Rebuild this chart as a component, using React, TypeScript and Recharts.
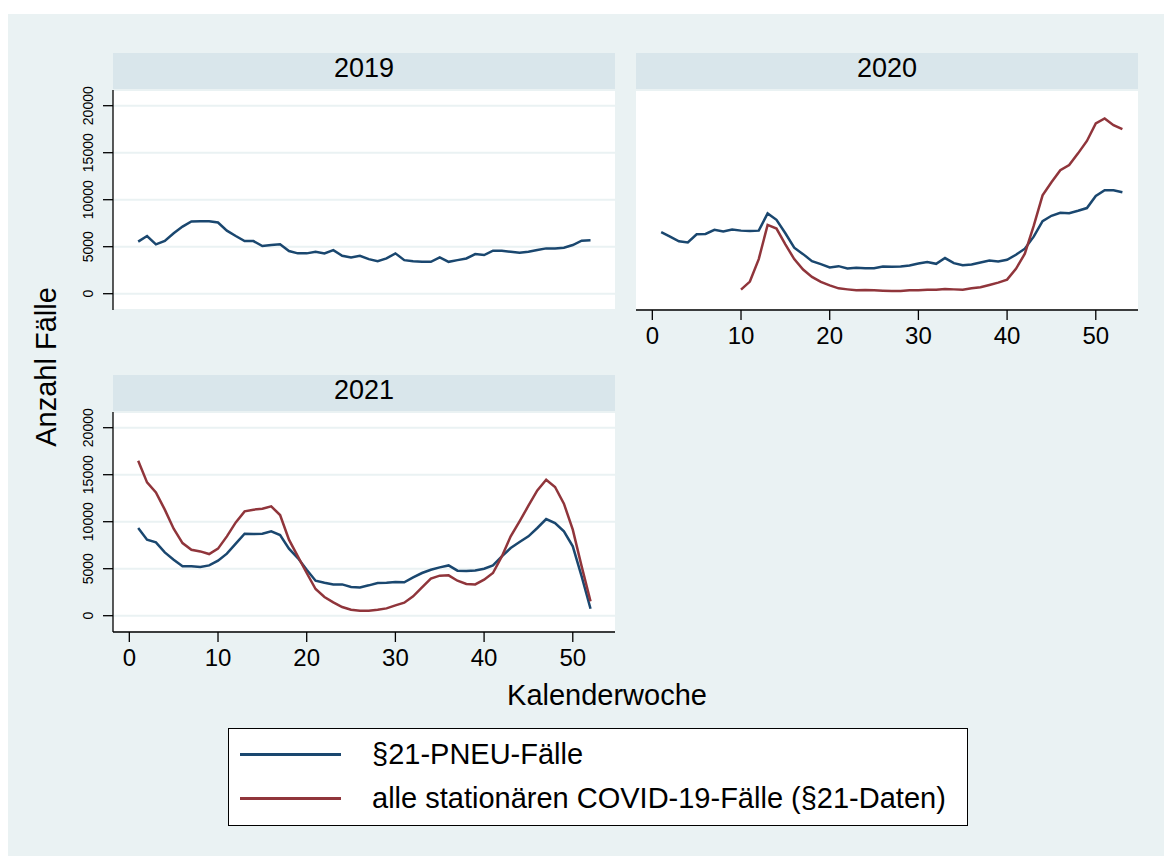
import React from 'react';
import { LineChart, Line, XAxis, YAxis, CartesianGrid } from 'recharts';

const weeks = [1, 2, 3, 4, 5, 6, 7, 8, 9, 10, 11, 12, 13, 14, 15, 16, 17, 18, 19, 20, 21, 22, 23, 24, 25, 26, 27, 28, 29, 30, 31, 32, 33, 34, 35, 36, 37, 38, 39, 40, 41, 42, 43, 44, 45, 46, 47, 48, 49, 50, 51, 52, 53];

const pneu2019 = [5540, 6140, 5250, 5610, 6430, 7140, 7680, 7710, 7710, 7570, 6710, 6140, 5600, 5600, 5070, 5180, 5250, 4540, 4290, 4290, 4460, 4290, 4640, 4040, 3860, 4040, 3680, 3460, 3750, 4290, 3570, 3460, 3390, 3390, 3860, 3390, 3570, 3750, 4210, 4110, 4570, 4570, 4460, 4360, 4460, 4640, 4820, 4820, 4890, 5180, 5640, 5680];

const pneu2020 = [6540, 6070, 5570, 5460, 6320, 6360, 6790, 6610, 6820, 6710, 6680, 6710, 8540, 7860, 6430, 4890, 4210, 3460, 3140, 2790, 2930, 2680, 2750, 2710, 2710, 2890, 2860, 2890, 3000, 3210, 3360, 3180, 3790, 3250, 3040, 3110, 3320, 3540, 3430, 3610, 4140, 4790, 6070, 7710, 8290, 8610, 8570, 8820, 9110, 10390, 11000, 11000, 10790];
const covid2020 = [null, null, null, null, null, null, null, null, null, 430, 1290, 3680, 7320, 6930, 5250, 3680, 2570, 1790, 1250, 890, 570, 460, 360, 390, 360, 320, 290, 290, 360, 360, 430, 430, 500, 460, 430, 570, 680, 930, 1180, 1500, 2640, 4250, 7210, 10460, 11860, 13140, 13680, 14930, 16250, 18110, 18640, 17930, 17500];

const pneu2021 = [9330, 8090, 7800, 6740, 5960, 5250, 5250, 5180, 5350, 5850, 6600, 7660, 8720, 8690, 8720, 8970, 8580, 7130, 6130, 4890, 3720, 3510, 3330, 3330, 3050, 3010, 3230, 3480, 3510, 3580, 3550, 4080, 4540, 4890, 5140, 5350, 4790, 4750, 4820, 5000, 5350, 6310, 7200, 7840, 8440, 9330, 10280, 9860, 8970, 7380, 4180, 740];
const covid2021 = [16490, 14180, 13120, 11280, 9260, 7730, 7020, 6840, 6560, 7130, 8440, 9930, 11100, 11280, 11380, 11630, 10710, 8090, 6310, 4540, 2840, 1990, 1420, 920, 640, 530, 530, 640, 780, 1100, 1380, 2060, 3010, 3940, 4260, 4290, 3720, 3370, 3330, 3830, 4540, 6310, 8440, 10040, 11700, 13330, 14470, 13690, 11920, 9150, 5250, 1520];

const xTicks = [0, 10, 20, 30, 40, 50];
const yTicks = [0, 5000, 10000, 15000, 20000];

const FONT = '"Liberation Sans", Arial, sans-serif';
const BG = '#EAF2F3';
const STRIP = '#D9E6EB';
const NAVY = '#1A476F';
const MAROON = '#90353B';

const PLOT_W = 502;
const PLOT_H = 220;
const Y_W = 60;
const TOP_PAD = 20;

function buildRows(pneu: (number | null)[], covid: (number | null)[] | null) {
    return pneu.map((p, i) => ({ week: weeks[i], pneu: p, covid: covid ? covid[i] : null }));
}

function YTick(props: any) {
    const { x, y, payload } = props;
    const cx = x - 15;
    return (
        <text
            x={cx}
            y={y}
            dy="0.36em"
            textAnchor="middle"
            fontSize={14}
            fontFamily={FONT}
            fill="#000"
            transform={`rotate(-90, ${cx}, ${y})`}
        >
            {payload.value}
        </text>
    );
}

interface PanelProps {
    title: string;
    left: number;
    top: number;
    data: any[];
    showY: boolean;
    showX: boolean;
    showCovid: boolean;
}

function Panel({ title, left, top, data, showY, showX, showCovid }: PanelProps) {
    return (
        <>
            <div
                style={{
                    position: 'absolute',
                    left,
                    top: top - 37,
                    width: PLOT_W,
                    height: 37,
                    background: STRIP,
                }}
            >
                <div
                    style={{
                        position: 'absolute',
                        left: 0,
                        right: 0,
                        top: 0,
                        textAlign: 'center',
                        fontSize: 27,
                        lineHeight: '30px',
                        fontFamily: FONT,
                        color: '#000',
                    }}
                >
                    {title}
                </div>
            </div>
            <div style={{ position: 'absolute', left: left - Y_W, top: top - TOP_PAD }}>
                <LineChart
                    width={PLOT_W + Y_W}
                    height={(showX ? PLOT_H + 50 : PLOT_H) + TOP_PAD}
                    data={data}
                    margin={{ top: TOP_PAD, right: 0, left: 0, bottom: 0 }}
                >
                    <CartesianGrid vertical={false} fill="#ffffff" stroke={BG} strokeWidth={2} />
                    <XAxis
                        type="number"
                        dataKey="week"
                        domain={[-1.84, 54.76]}
                        ticks={xTicks}
                        allowDataOverflow
                        hide={!showX}
                        height={50}
                        tickSize={10}
                        tickMargin={7}
                        stroke="#000"
                        strokeWidth={1.3}
                        tick={{ fontSize: 24, fontFamily: FONT, fill: '#000' }}
                    />
                    <YAxis
                        type="number"
                        domain={[-1734, 21670]}
                        ticks={yTicks}
                        allowDataOverflow
                        width={Y_W}
                        tickSize={10}
                        tickMargin={0}
                        stroke="#000"
                        strokeWidth={1.3}
                        axisLine={showY}
                        tickLine={showY}
                        tick={showY ? <YTick /> : false}
                    />
                    <Line
                        type="linear"
                        dataKey="pneu"
                        stroke={NAVY}
                        strokeWidth={2.5}
                        dot={false}
                        isAnimationActive={false}
                    />
                    {showCovid && (
                        <Line
                            type="linear"
                            dataKey="covid"
                            stroke={MAROON}
                            strokeWidth={2.5}
                            dot={false}
                            connectNulls={false}
                            isAnimationActive={false}
                        />
                    )}
                </LineChart>
            </div>
        </>
    );
}

export default function App() {
    const rows2019 = buildRows(pneu2019, null);
    const rows2020 = buildRows(pneu2020, covid2020);
    const rows2021 = buildRows(pneu2021, covid2021);

    return (
        <div
            style={{
                position: 'relative',
                width: 1156,
                height: 842,
                marginTop: 6,
                background: BG,
                fontFamily: FONT,
            }}
        >
            <Panel title="2019" left={105} top={76} data={rows2019} showY showX={false} showCovid={false} />
            <Panel title="2020" left={628} top={76} data={rows2020} showY={false} showX showCovid />
            <Panel title="2021" left={105} top={398} data={rows2021} showY showX showCovid />

            <div
                style={{
                    position: 'absolute',
                    left: 38,
                    top: 353,
                    transform: 'translate(-50%, -50%) rotate(-90deg)',
                    fontSize: 29,
                    whiteSpace: 'nowrap',
                    color: '#000',
                }}
            >
                Anzahl Fälle
            </div>
            <div
                style={{
                    position: 'absolute',
                    left: 599,
                    top: 681,
                    transform: 'translate(-50%, -50%)',
                    fontSize: 29,
                    whiteSpace: 'nowrap',
                    color: '#000',
                }}
            >
                Kalenderwoche
            </div>

            <div
                style={{
                    position: 'absolute',
                    left: 220,
                    top: 714,
                    width: 740,
                    height: 98,
                    boxSizing: 'border-box',
                    border: '1.5px solid #000',
                    background: '#fff',
                }}
            >
                {[
                    { color: NAVY, label: '§21-PNEU-Fälle', y: 25 },
                    { color: MAROON, label: 'alle stationären COVID-19-Fälle (§21-Daten)', y: 69 },
                ].map((item) => (
                    <React.Fragment key={item.label}>
                        <div
                            style={{
                                position: 'absolute',
                                left: 11,
                                top: item.y - 1,
                                width: 101,
                                height: 2.5,
                                background: item.color,
                            }}
                        />
                        <div
                            style={{
                                position: 'absolute',
                                left: 143,
                                top: item.y - 17,
                                fontSize: 29,
                                lineHeight: '34px',
                                whiteSpace: 'nowrap',
                                color: '#000',
                            }}
                        >
                            {item.label}
                        </div>
                    </React.Fragment>
                ))}
            </div>
        </div>
    );
}
